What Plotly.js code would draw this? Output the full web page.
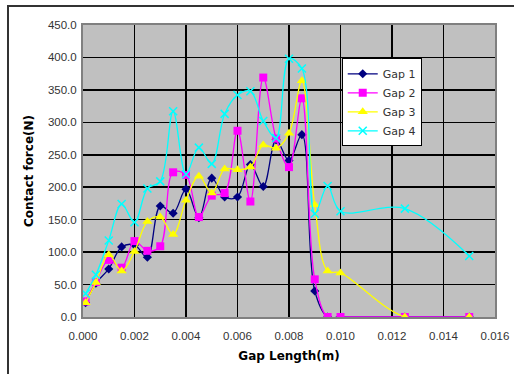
<!DOCTYPE html>
<html>
<head>
<meta charset="utf-8">
<script src="https://cdn.plot.ly/plotly-3.0.1.min.js"></script>
<style>
html,body{margin:0;padding:0;background:#fff;}
#chart{width:514px;height:374px;position:absolute;left:0;top:0;}
#frame{position:absolute;left:7px;top:5px;width:520px;height:380px;border-left:2px solid #333;border-top:2px solid #333;pointer-events:none;}
</style>
</head>
<body>
<div id="chart"></div>
<div id="frame"></div>
<script>
// Gap length (m)
const gapX = [0.0001, 0.0005, 0.001, 0.0015, 0.002, 0.0025, 0.003, 0.0035, 0.004, 0.0045, 0.005, 0.0055, 0.006, 0.0065, 0.007, 0.0075, 0.008, 0.0085, 0.009, 0.0095, 0.010, 0.0125, 0.015];
// Contact force (N)
const gap1 = [22, 52, 74, 108, 111, 92, 171, 160, 197, 153, 214, 185, 185, 235, 201, 273, 241, 281, 40, 0, 0, 0, 0];
const gap2 = [24, 54, 88, 76, 117, 102, 109, 223, 219, 154, 187, 191, 287, 178, 369, 275, 231, 337, 58, 0, 0, 0, 0];
const gap3 = [22, 53, 96, 71, 101, 147, 154, 127, 180, 217, 191, 228, 227, 231, 265, 260, 283, 364, 173, 71, 68, 0, 0];
const gap4 = [36, 65, 118, 174, 146, 198, 209, 317, 220, 261, 236, 313, 342, 348, 302, 276, 398, 383, 159, 202, 163, 167, 94];
const seriesNames = ['Gap 1', 'Gap 2', 'Gap 3', 'Gap 4'];
const xTickVals = [0, 0.002, 0.004, 0.006, 0.008, 0.010, 0.012, 0.014, 0.016];
const yTickVals = [0, 50, 100, 150, 200, 250, 300, 350, 400, 450];

const styles = [
  {color: '#000080', symbol: 'diamond', size: 7, lw: 1.3},
  {color: '#FF00FF', symbol: 'square', size: 8, lw: 1.3},
  {color: '#FFFF00', symbol: 'triangle-up', size: 9, lw: 1.3},
  {color: '#00FFFF', symbol: 'x-thin', size: 8, lw: 1.3}
];
const ys = [gap1, gap2, gap3, gap4];
const traces = ys.map((y, i) => ({
  x: gapX, y: y, name: seriesNames[i], type: 'scatter', mode: 'lines+markers',
  line: {color: styles[i].color, width: styles[i].lw, shape: 'spline', smoothing: 1},
  marker: {color: styles[i].color, symbol: styles[i].symbol, size: styles[i].size,
           line: {color: styles[i].color, width: i === 3 ? 1.5 : 0}}
}));

const tickFont = {family: 'Liberation Sans, Arial, sans-serif', size: 11.5, color: '#333'};
const layout = {
  width: 514, height: 374,
  margin: {l: 83, r: 19, t: 25, b: 57},
  paper_bgcolor: '#ffffff',
  plot_bgcolor: '#c0c0c0',
  showlegend: true,
  legend: {x: 0.628, y: 0.886, xanchor: 'left', yanchor: 'top',
           bgcolor: '#ffffff', bordercolor: '#000', borderwidth: 1,
           itemwidth: 30,
           font: {family: 'DejaVu Sans, sans-serif', size: 11, color: '#333'}},
  xaxis: {
    range: [0, 0.016], tickvals: xTickVals, tickformat: '.3f',
    showgrid: true, gridcolor: '#000', gridwidth: 1.5,
    showline: true, mirror: true, linecolor: '#808080', linewidth: 2,
    zeroline: false, ticks: '', tickfont: tickFont, ticklabelstandoff: 7,
    title: {text: 'Gap Length(m)', font: {family: 'DejaVu Sans', size: 12, color: '#000', weight: 'bold'}, standoff: 11}
  },
  yaxis: {
    range: [0, 450], tickvals: yTickVals, tickformat: '.1f',
    showgrid: true, gridcolor: '#000', gridwidth: 1.5,
    showline: true, mirror: true, linecolor: '#808080', linewidth: 2,
    zeroline: false, ticks: '', tickfont: tickFont, ticklabelstandoff: 2,
    title: {text: 'Contact force(N)', font: {family: 'DejaVu Sans', size: 12, color: '#000', weight: 'bold'}, standoff: 12}
  }
};
Plotly.newPlot('chart', traces, layout, {displayModeBar: false, staticPlot: true});
</script>
</body>
</html>
